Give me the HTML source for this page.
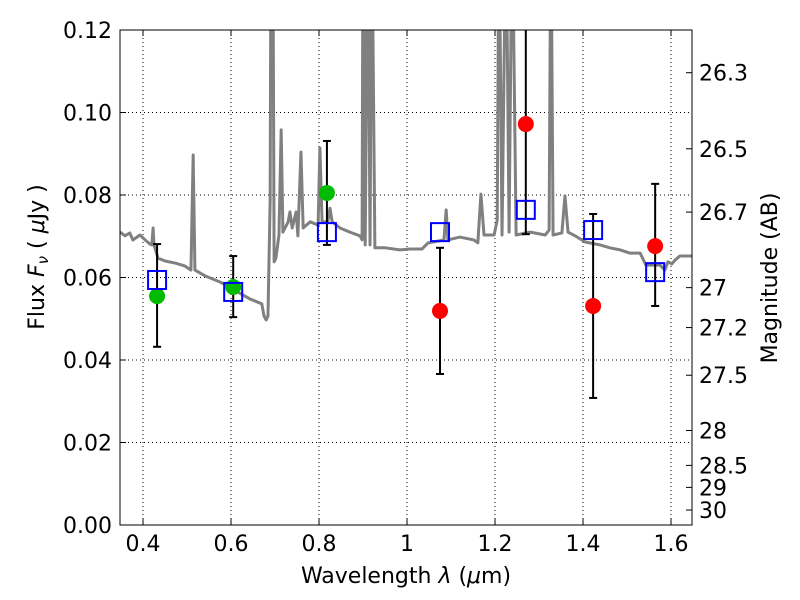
<!DOCTYPE html>
<html><head><meta charset="utf-8"><style>
body{margin:0;background:#fff}
svg{display:block;font-family:"DejaVu Sans","Liberation Sans",sans-serif}
</style></head><body>
<svg id="chart" width="800" height="600">
<defs><clipPath id="pc"><rect x="120" y="30" width="572" height="495"/></clipPath></defs>
<rect x="0" y="0" width="800" height="600" fill="#fff"/>
<g id="grid"></g>
<g id="spec" clip-path="url(#pc)"></g>
<g id="marks" clip-path="url(#pc)"></g>
<rect x="120" y="30" width="572" height="495" fill="none" stroke="#000" stroke-width="1"/>
<g id="axes"></g>
<text x="406" y="583" font-size="22" text-anchor="middle">Wavelength  <tspan font-style="italic">λ</tspan> (<tspan font-style="italic">μ</tspan>m)</text>
<text transform="translate(44,257) rotate(-90)" font-size="22" text-anchor="middle">Flux  <tspan font-style="italic">F</tspan><tspan font-style="italic" font-size="15" dy="4">ν</tspan><tspan dy="-4">  ( </tspan><tspan font-style="italic">μ</tspan>Jy )</text>
<text transform="translate(777,278) rotate(-90)" font-size="22" text-anchor="middle">Magnitude (AB)</text>
</svg>
<script>
const xTicks=[0.4,0.6,0.8,1.0,1.2,1.4,1.6];
const xTickLabels=["0.4","0.6","0.8","1","1.2","1.4","1.6"];
const yTicks=[0,0.02,0.04,0.06,0.08,0.10,0.12];
const yTickLabels=["0.00","0.02","0.04","0.06","0.08","0.10","0.12"];
const magTicks=[26.3,26.5,26.7,27,27.2,27.5,28,28.5,29,30];
const magLabels=["26.3","26.5","26.7","27","27.2","27.5","28","28.5","29","30"];
const specLam=[0.348,0.359,0.370,0.377,0.393,0.405,0.416,0.420,0.423,0.425,0.434,0.450,0.473,0.495,0.509,0.514,0.518,0.541,0.575,0.598,0.620,0.643,0.666,0.670,0.675,0.680,0.684,0.689,0.691,0.695,0.698,0.702,0.709,0.714,0.718,0.730,0.734,0.739,0.748,0.752,0.759,0.764,0.780,0.798,0.802,0.807,0.820,0.825,0.830,0.848,0.870,0.893,0.898,0.900,0.905,0.911,0.916,0.920,0.927,0.950,0.984,1.007,1.034,1.048,1.084,1.089,1.093,1.120,1.152,1.161,1.168,1.175,1.198,1.205,1.209,1.216,1.225,1.232,1.239,1.248,1.280,1.314,1.323,1.327,1.332,1.352,1.359,1.366,1.382,1.405,1.439,1.461,1.484,1.507,1.530,1.543,1.575,1.586,1.593,1.602,1.609,1.620,1.648];
const specFlux=[0.0710,0.0701,0.0708,0.0691,0.0703,0.0691,0.0681,0.0679,0.0720,0.0679,0.0647,0.0640,0.0635,0.0628,0.0618,0.0897,0.0618,0.0604,0.0589,0.0577,0.0562,0.0548,0.0538,0.0536,0.0507,0.0497,0.0507,0.0788,0.15,0.15,0.0638,0.0647,0.0703,0.0958,0.0710,0.0735,0.0759,0.0720,0.0759,0.0701,0.0904,0.0720,0.0735,0.0727,0.0914,0.0735,0.0735,0.0768,0.0735,0.0720,0.0710,0.0701,0.0691,0.15,0.0679,0.15,0.0679,0.15,0.0672,0.0672,0.0667,0.0669,0.0669,0.0684,0.0691,0.0764,0.0691,0.0698,0.0691,0.0684,0.0802,0.0703,0.0703,0.0739,0.15,0.0703,0.15,0.0710,0.15,0.0703,0.0710,0.0703,0.0715,0.15,0.0703,0.0708,0.0798,0.0710,0.0701,0.0686,0.0679,0.0672,0.0667,0.0659,0.0659,0.0630,0.0630,0.0618,0.0638,0.0633,0.0642,0.0652,0.0652];
const obsLam=[0.432,0.605,0.818,1.075,1.270,1.423,1.564];
const obsFlux=[0.0555,0.0577,0.0805,0.0519,0.0972,0.0531,0.0676];
const errLow=[0.0432,0.0504,0.0679,0.0366,0.0705,0.0308,0.0531];
const errHigh=[0.0681,0.0652,0.0931,0.0672,0.1300,0.0754,0.0827];
const obsColor=["#00bb00","#00bb00","#00bb00","red","red","red","red"];
const modelFlux=[0.0594,0.0565,0.0710,0.0710,0.0764,0.0715,0.0613];

const NS="http://www.w3.org/2000/svg";
const X=v=>143+(v-0.4)*440;
const Y=v=>525-v*4125;
const magToFlux=m=>Math.pow(10,(23.9-m)/2.5);
function mk(tag,attrs,parent){const e=document.createElementNS(NS,tag);for(const k in attrs)e.setAttribute(k,attrs[k]);parent.appendChild(e);return e;}
const grid=document.getElementById('grid'),axes=document.getElementById('axes');
xTicks.forEach((t,i)=>{
  const x=X(t);
  const g=mk('line',{x1:x,x2:x,y1:30,y2:525,stroke:'#000','stroke-dasharray':'1,3','stroke-width':1},grid);
  
  
  mk('line',{x1:x,x2:x,y1:525,y2:519,stroke:'#000'},axes);
  mk('line',{x1:x,x2:x,y1:30,y2:36,stroke:'#000'},axes);
  const tx=mk('text',{x:x,y:551,'font-size':22,'text-anchor':'middle'},axes);
  tx.textContent=xTickLabels[i];
  
  
});
yTicks.forEach((t,i)=>{
  const y=Y(t);
  if(t>0&&t<0.12){const g=mk('line',{x1:120,x2:692,y1:y,y2:y,stroke:'#000','stroke-dasharray':'1,3','stroke-width':1},grid);
  
  }
  mk('line',{x1:120,x2:126,y1:y,y2:y,stroke:'#000'},axes);
  const tx=mk('text',{x:112,y:y+8,'font-size':22,'text-anchor':'end'},axes);
  tx.textContent=yTickLabels[i];
  
  
});
magTicks.forEach((m,i)=>{
  const y=Y(magToFlux(m));
  mk('line',{x1:686,x2:692,y1:y,y2:y,stroke:'#000'},axes);
  const tx=mk('text',{x:699,y:y+8,'font-size':22},axes);
  tx.textContent=magLabels[i];
  
  
});
const spec=document.getElementById('spec');
const pl=mk('polyline',{points:specLam.map((l,i)=>X(l)+','+Y(specFlux[i])).join(' '),fill:'none',stroke:'#808080','stroke-width':3,'stroke-linejoin':'round'},spec);


const marks=document.getElementById('marks');
obsLam.forEach((l,i)=>{
  const x=X(l);
  const eb=mk('g',{},marks);
  
  
  mk('line',{x1:x,x2:x,y1:Y(errLow[i]),y2:Y(errHigh[i]),stroke:'#000','stroke-width':2},eb);
  mk('line',{x1:x-4,x2:x+4,y1:Y(errLow[i]),y2:Y(errLow[i]),stroke:'#000','stroke-width':2},eb);
  mk('line',{x1:x-4,x2:x+4,y1:Y(errHigh[i]),y2:Y(errHigh[i]),stroke:'#000','stroke-width':2},eb);
  const c=mk('circle',{cx:x,cy:Y(obsFlux[i]),r:8,fill:obsColor[i]},marks);
  
  
  const s=mk('rect',{x:x-9,y:Y(modelFlux[i])-9,width:18,height:18,fill:'none',stroke:'#0000ff','stroke-width':2},marks);
  
  
});
</script>
</body></html>
